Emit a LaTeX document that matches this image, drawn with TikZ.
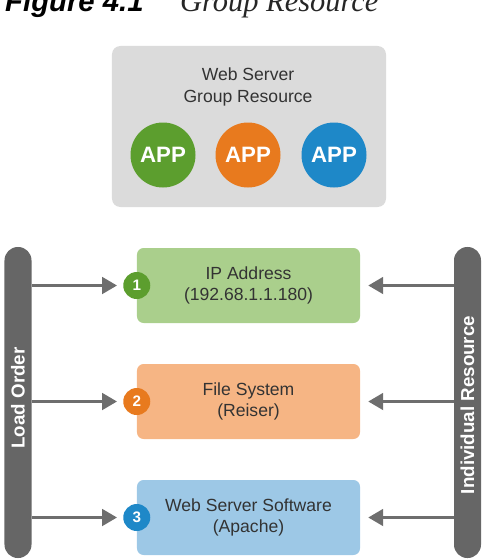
\documentclass[tikz,border=0pt]{standalone}
\usepackage{fontspec}
\setmainfont{Liberation Serif}
\setsansfont{Liberation Sans}
\usepackage{xcolor}
\usepackage{tikz}
\usetikzlibrary{arrows.meta}
\definecolor{boxgray}{RGB}{219,219,219}
\definecolor{bargray}{RGB}{102,102,102}
\definecolor{arrowgray}{RGB}{110,110,110}
\definecolor{txtgray}{RGB}{51,51,51}
\definecolor{appgreen}{RGB}{92,158,46}
\definecolor{apporange}{RGB}{232,122,30}
\definecolor{appblue}{RGB}{30,136,200}
\definecolor{boxgreen}{RGB}{170,207,140}
\definecolor{boxorange}{RGB}{246,181,132}
\definecolor{boxblue}{RGB}{157,200,230}
\tikzset{app/.style = {circle, minimum size = 1.95cm, inner sep = 0pt, text = white, font = \sffamily\bfseries\fontsize{19}{22}\selectfont},
    resbox/.style = {rounded corners = 0.2cm, minimum width = 6.69cm, minimum height = 2.25cm, align = center, text = txtgray, font = \sffamily\fontsize{15}{18.5}\selectfont},
    num/.style = {circle, minimum size = 0.81cm, inner sep = 0pt, text = white, font = \sffamily\bfseries\fontsize{13}{13}\selectfont},
    bar/.style = {fill = bargray, rounded corners = 0.4cm, minimum width = 0.81cm, minimum height = 9.33cm},
    bartext/.style = {rotate = 90, text = white, font = \sffamily\bfseries\fontsize{16}{16}\selectfont},
    flow/.style = {draw = arrowgray, line width = 2.5pt, -{Triangle[length = 0.45cm, width = 0.5cm]}}}

\begin{document}
\begin{tikzpicture}[x = 0.03cm, y = -0.03cm]
    \useasboundingbox (0, 0) rectangle (486, 560);
    \node [anchor = base west, inner sep = 0pt, font = \sffamily\bfseries\itshape\fontsize{25}{25}\selectfont] (fig) at (5, 12) {Figure 4.1};
    \node [anchor = base west, inner sep = 0pt, font = \itshape\fontsize{26}{26}\selectfont, text = black!85] (title) at (180, 12) {Group Resource};
    % group resource
    \node [fill = boxgray, rounded corners = 0.25cm, minimum width = 8.22cm, minimum height = 4.83cm] (group) at (249, 126.5) {};
    \node [align = center, text = txtgray, font = \sffamily\fontsize{15}{18.5}\selectfont] (grouplbl) at (248, 87) {Web Server\\Group Resource};
    \foreach \x\c\i in {163/appgreen/1, 248/apporange/2, 334/appblue/3} {
        \node [app, fill = \c] (app\i) at (\x, 155) {APP};
    }
    % side bars
    \node [bar] (loadbar) at (18, 402.5) {};
    \node [bartext] (loadtxt) at (18, 398) {Load Order};
    \node [bar] (resbar) at (467.5, 402.5) {};
    \node [bartext] (restxt) at (467.5, 405) {Individual Resource};
    % resources
    \foreach \y\c\i\t in {285.5/green/1/{IP Address\\(192.68.1.1.180)}, 401.5/orange/2/{File System\\(Reiser)}, 517.5/blue/3/{Web Server Software\\(Apache)}} {
        \node [resbox, fill = box\c] (res\i) at (248.5, \y) {\t};
        \node [num, fill = app\c] (n\i) at (res\i.west) {\i};
        \draw [flow, shorten > = 0.18cm] (loadbar.east |- n\i) -- (n\i.west);
        \draw [flow, shorten > = 0.24cm] (resbar.west |- res\i.east) -- (res\i.east);
    }
\end{tikzpicture}
\end{document}
